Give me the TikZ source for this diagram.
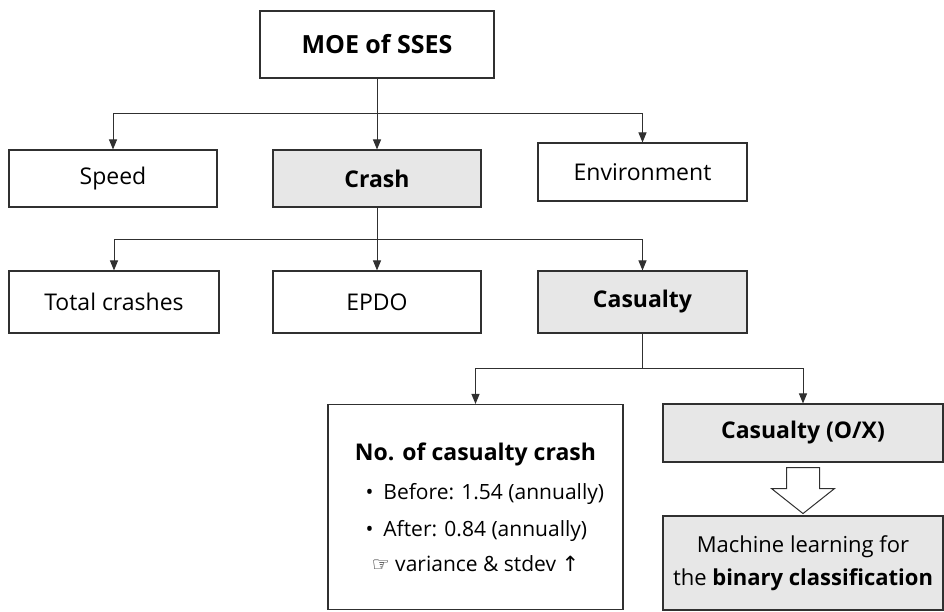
\documentclass[tikz,border=0pt]{standalone}
\usepackage{fontspec}
\setmainfont{Open Sans}
\newfontfamily\symfont{DejaVu Sans}
\usetikzlibrary{arrows.meta}
\definecolor{boxgray}{HTML}{E7E7E7}
\definecolor{linegray}{HTML}{303030}

\begin{document}
\begin{tikzpicture}[x=1pt, y=-1pt, >={Triangle[length=10pt,width=8pt]},
  box/.style={draw=linegray, line width=1.1pt, inner sep=0pt, minimum width=208pt, minimum height=58pt, align=center, font=\fontsize{23}{29}\selectfont},
  shaded/.style={box, fill=boxgray, font=\fontsize{23}{29}\selectfont\bfseries},
  link/.style={draw=linegray, line width=1pt},
  hollow/.style={draw=linegray, fill=white, line width=1pt, line join=miter}]
\useasboundingbox (0,0) rectangle (944,611);

% top level
\node[box, minimum width=234pt, minimum height=67pt, font=\fontsize{25}{31}\selectfont\bfseries] (moe) at (377,44.5) {MOE of SSES};

% second level
\node[box, minimum height=57pt] (speed) at (113,178.5) {Speed};
\node[shaded, minimum height=57pt] (crash) at (377,178.5) {Crash};
\node[box, minimum width=209pt] (env) at (642.5,172) {Environment};

% third level
\node[box, minimum width=210pt, minimum height=62pt] (total) at (114,302) {Total crashes};
\node[box, minimum height=62pt] (epdo) at (377,302) {EPDO};
\node[shaded, minimum width=209pt, minimum height=62pt] (casualty) at (642.5,302) {Casualty};

% casualty measures
\node[box, minimum width=295pt, minimum height=205pt, font=\fontsize{21}{35}\selectfont] (count) at (475.5,507) {%
  {\fontsize{23}{35}\selectfont\bfseries No. of casualty crash}\\[4pt]
  \makebox[284pt][r]{\makebox[252pt][l]{\textbullet\hspace{10pt}Before: 1.54 (annually)}}\\[2pt]
  \makebox[284pt][r]{\makebox[252pt][l]{\textbullet\hspace{10pt}After: 0.84 (annually)}}\\[0pt]
  {\symfont\fontsize{20}{35}\selectfont ☞} variance \& stdev {\symfont ↑}};
\node[shaded, minimum width=280pt] (binary) at (803,433) {Casualty (O/X)};
\node[shaded, minimum width=280pt, minimum height=94pt, font=\fontsize{22}{33}\selectfont] (ml) at (803,563) {Machine learning for\\the \textbf{binary classification}};

\draw[link,->] (moe.south) -- ++(0,35) -| (speed.north);
\draw[link,->] (moe.south) -- (crash.north);
\draw[link,->] (moe.south) -- ++(0,35) -| (env.north);
\draw[link,->] (crash.south) -- ++(0,32) -| (total.north);
\draw[link,->] (crash.south) -- (epdo.north);
\draw[link,->] (crash.south) -- ++(0,32) -| (casualty.north);
\draw[link,->] (casualty.south) -- ++(0,35) -| (count.north);
\draw[link,->] (casualty.south) -- ++(0,35) -| (binary.north);

% block arrow
\draw[hollow, shift={(binary.south)}] (-16.5,5) -- (16.5,5) -- (16.5,26) -- (31.5,26) -- (0,51) -- (-31.5,26) -- (-16.5,26) -- cycle;
\end{tikzpicture}
\end{document}
